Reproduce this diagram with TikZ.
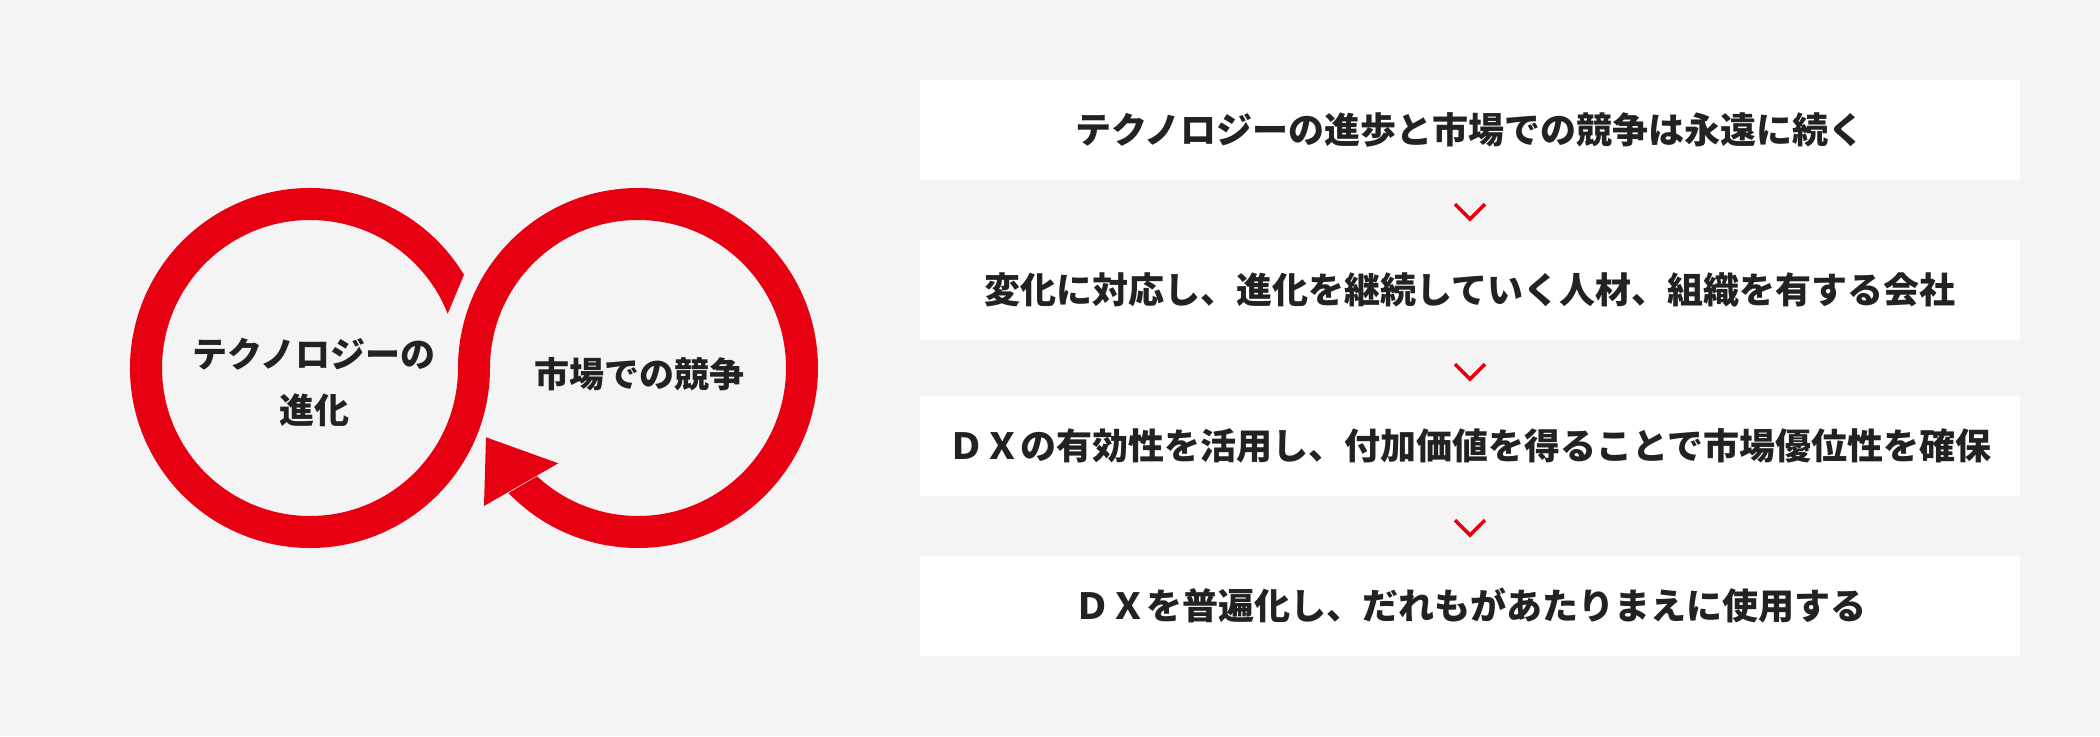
\documentclass[tikz,border=0pt]{standalone}
\usepackage{fontspec}
\newfontfamily\jp{Noto Sans CJK JP}
\usetikzlibrary{calc}
\definecolor{bg}{HTML}{F4F4F4}
\definecolor{accent}{HTML}{E60012}
\definecolor{inkc}{HTML}{222222}
\tikzset{
  stepbox/.style={fill=white, minimum width=1100pt, minimum height=100pt, inner sep=0pt,
    text=inkc, font=\jp\bfseries\fontsize{36}{40}\selectfont},
  chev/.style={draw=accent, line width=3.5pt, line cap=butt, line join=miter},
  looplabel/.style={text=inkc, align=center, inner sep=0pt, font=\jp\bfseries\fontsize{35}{56}\selectfont}
}
\begin{document}
\begin{tikzpicture}[x=1pt,y=1pt]
\fill[bg] (0,0) rectangle (2100,736);
\useasboundingbox (0,0) rectangle (2100,736);
% loop
\coordinate (L) at (310,368);
\coordinate (R) at (638,368);
\fill[accent] ($(L)+(31.2:180)$) arc[start angle=31.2, end angle=360, radius=180]
  arc[start angle=180, end angle=-133, radius=148]
  -- ($(R)+(-136:180)$)
  arc[start angle=-136, end angle=180, radius=180]
  arc[start angle=360, end angle=21.5, radius=148] -- cycle;
\fill[accent] (486,298.7) -- (558.3,272.7) -- (484,230) -- cycle;
\node[looplabel] (tech) at (314,354) {テクノロジーの\\進化};
\node[looplabel] (market) at (639,362) {市場での競争};
% steps
\node[stepbox] (b1) at (1470,606) {テクノロジーの進歩と市場での競争は永遠に続く};
\node[stepbox] (b2) at (1470,446) {変化に対応し、進化を継続していく人材、組織を有する会社};
\node[stepbox] (b3) at (1470,290) {ＤＸの有効性を活用し、付加価値を得ることで市場優位性を確保};
\node[stepbox] (b4) at (1470,130) {ＤＸを普遍化し、だれもがあたりまえに使用する};
\foreach \a in {b1,b2,b3}{
  \draw[chev] ($(\a.south)+(-15,-24)$) -- ++(15,-15) -- ++(15,15);
}
\end{tikzpicture}
\end{document}
